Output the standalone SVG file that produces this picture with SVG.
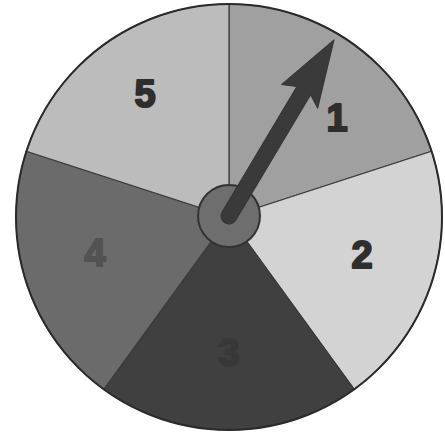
<svg xmlns="http://www.w3.org/2000/svg" width="445" height="434" viewBox="0 0 445 434">
<style>
.sec{stroke:#3a3a3a;stroke-width:1.2;stroke-linejoin:round}
.lbl{font-family:"Liberation Sans",Arial,sans-serif;font-weight:bold;font-size:38px;text-anchor:middle;stroke-width:2;stroke-linejoin:round}
</style>
<rect width="445" height="434" fill="#ffffff"/>
<g id="spinner">
<g id="sector1"><path class="sec" d="M229 217 L229 4 A213 213 0 0 1 431.6 151.2 Z" fill="#a0a0a0"/><text class="lbl" x="337" y="131" fill="#2e2e2e" stroke="#2e2e2e">1</text></g>
<g id="sector2"><path class="sec" d="M229 217 L431.6 151.2 A213 213 0 0 1 354.2 389.3 Z" fill="#d3d3d3"/><text class="lbl" x="362" y="268" fill="#2e2e2e" stroke="#2e2e2e">2</text></g>
<g id="sector3"><path class="sec" d="M229 217 L354.2 389.3 A213 213 0 0 1 103.8 389.3 Z" fill="#404040"/><text class="lbl" x="229" y="366" fill="#383838" stroke="#383838">3</text></g>
<g id="sector4"><path class="sec" d="M229 217 L103.8 389.3 A213 213 0 0 1 26.4 151.2 Z" fill="#6b6b6b"/><text class="lbl" x="95" y="266" fill="#525252" stroke="#525252">4</text></g>
<g id="sector5"><path class="sec" d="M229 217 L26.4 151.2 A213 213 0 0 1 229 4 Z" fill="#bcbcbc"/><text class="lbl" x="145" y="107" fill="#2e2e2e" stroke="#2e2e2e">5</text></g>
<circle cx="229" cy="217" r="213" fill="none" stroke="#2a2a2a" stroke-width="2"/>
</g>
<g id="hub"><circle cx="229" cy="216" r="31" fill="#6e6e6e" stroke="#333333" stroke-width="2"/></g>
<g id="pointer" transform="translate(229 216) rotate(30.8)">
<path d="M-8 0 L-8 -146 L-22 -140 L0 -205 L21 -138 L8 -146 L8 0 A8 8 0 0 1 -8 0 Z" fill="#3a3a3a" stroke="#333333" stroke-width="1" stroke-linejoin="round"/>
</g>
</svg>
